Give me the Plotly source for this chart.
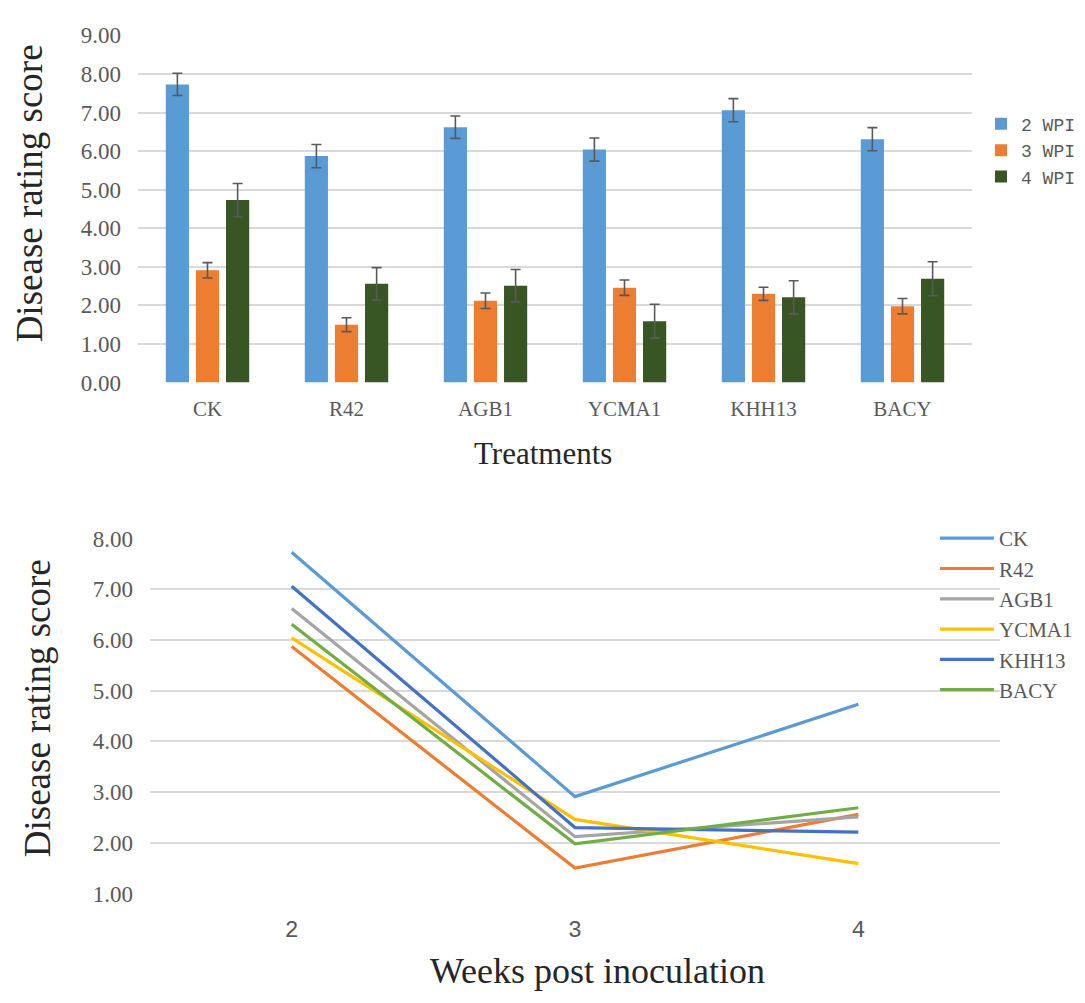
import plotly.graph_objects as go

# Treatments and sampling weeks
treatments = ["CK", "R42", "AGB1", "YCMA1", "KHH13", "BACY"]
weeks = [2, 3, 4]
week_labels = ["2 WPI", "3 WPI", "4 WPI"]

# Mean disease rating score per treatment at each week
wpi2 = [7.73, 5.87, 6.62, 6.04, 7.06, 6.31]
wpi3 = [2.91, 1.50, 2.12, 2.46, 2.30, 1.98]
wpi4 = [4.73, 2.56, 2.51, 1.59, 2.21, 2.69]

# Standard errors
err2 = [0.29, 0.30, 0.29, 0.30, 0.30, 0.30]
err3 = [0.20, 0.18, 0.20, 0.20, 0.17, 0.20]
err4 = [0.43, 0.42, 0.42, 0.44, 0.43, 0.44]

bar_colors = ["#5B9BD5", "#ED7D31", "#375623"]
line_colors = ["#5B9BD5", "#ED7D31", "#A5A5A5", "#FFC000", "#4472C4", "#70AD47"]

SERIF = "Liberation Serif"
MONO = "Liberation Mono"
TICK_GREY = "#595959"
GRID = "#D9D9D9"

W, H = 1085, 1003


def px_x(v):
    return v / W


def px_y(v):
    return 1 - v / H


fig = go.Figure()

# Grouped bars with error bars
for name, vals, errs, col in zip(week_labels, [wpi2, wpi3, wpi4], [err2, err3, err4], bar_colors):
    fig.add_trace(go.Bar(
        x=treatments, y=vals, name=name,
        marker=dict(color=col, line=dict(width=0)),
        error_y=dict(type="data", array=errs, visible=True,
                     color="#595959", thickness=1.6, width=5),
        xaxis="x", yaxis="y", legend="legend",
    ))

# Time course lines, one per treatment
by_week = list(zip(wpi2, wpi3, wpi4))
for i, t in enumerate(treatments):
    fig.add_trace(go.Scatter(
        x=weeks, y=list(by_week[i]), name=t, mode="lines",
        line=dict(color=line_colors[i], width=3.2),
        xaxis="x2", yaxis="y2", legend="legend2",
    ))

fig.update_layout(
    width=W, height=H,
    margin=dict(l=0, r=0, t=0, b=0),
    paper_bgcolor="white", plot_bgcolor="white",
    barmode="group", bargap=0.35, bargroupgap=0.23,
    font=dict(family=SERIF, color=TICK_GREY),
    xaxis=dict(
        domain=[px_x(138), px_x(972)], anchor="y",
        showgrid=False, showline=False, zeroline=False,
        tickfont=dict(family=SERIF, size=21, color=TICK_GREY),
        ticks="", ticklabelstandoff=11,
    ),
    yaxis=dict(
        domain=[px_y(380), px_y(24)], anchor="x",
        range=[0, 9], dtick=1, tickformat=".2f",
        showgrid=True, gridcolor=GRID, gridwidth=1.5,
        zeroline=False, showline=False,
        tickfont=dict(family=SERIF, size=23, color=TICK_GREY),
        ticks="", ticklabelstandoff=16,
    ),
    xaxis2=dict(
        domain=[px_x(150), px_x(1000)], anchor="y2",
        range=[1.5, 4.5], tickvals=weeks, ticktext=[str(w) for w in weeks],
        showgrid=False, showline=False, zeroline=False,
        tickfont=dict(family=MONO, size=23, color=TICK_GREY),
        ticks="", ticklabelstandoff=20,
    ),
    yaxis2=dict(
        domain=[px_y(904), px_y(540)], anchor="x2",
        range=[1, 8], dtick=1, tickformat=".2f",
        showgrid=True, gridcolor=GRID, gridwidth=1.5,
        zeroline=False, showline=False,
        tickfont=dict(family=SERIF, size=23, color=TICK_GREY),
        ticks="", ticklabelstandoff=16,
    ),
    legend=dict(
        x=px_x(981), y=px_y(96), xanchor="left", yanchor="top",
        font=dict(family=MONO, size=18, color=TICK_GREY),
        bgcolor="rgba(0,0,0,0)", itemwidth=30, tracegroupgap=0,
        itemclick=False, itemdoubleclick=False,
    ),
    legend2=dict(
        x=px_x(935), y=px_y(519), xanchor="left", yanchor="top",
        font=dict(family=SERIF, size=21, color=TICK_GREY),
        bgcolor="rgba(0,0,0,0)", itemwidth=54, tracegroupgap=0,
        itemclick=False, itemdoubleclick=False,
    ),
    showlegend=True,
)

# Axis titles
title_color = "#262626"
for text, x, y, angle, size in [
    ("Disease rating score", 29, 186, -90, 37),
    ("Treatments", 543, 453, 0, 31),
    ("Disease rating score", 37, 714, -90, 37),
    ("Weeks post inoculation", 597, 984, 0, 36),
]:
    fig.add_annotation(text=text, x=px_x(x), y=px_y(y),
                       xref="paper", yref="paper", textangle=angle,
                       xanchor="center", yanchor="middle", showarrow=False,
                       font=dict(family=SERIF, size=size, color=title_color))

fig.write_html("out.html")
